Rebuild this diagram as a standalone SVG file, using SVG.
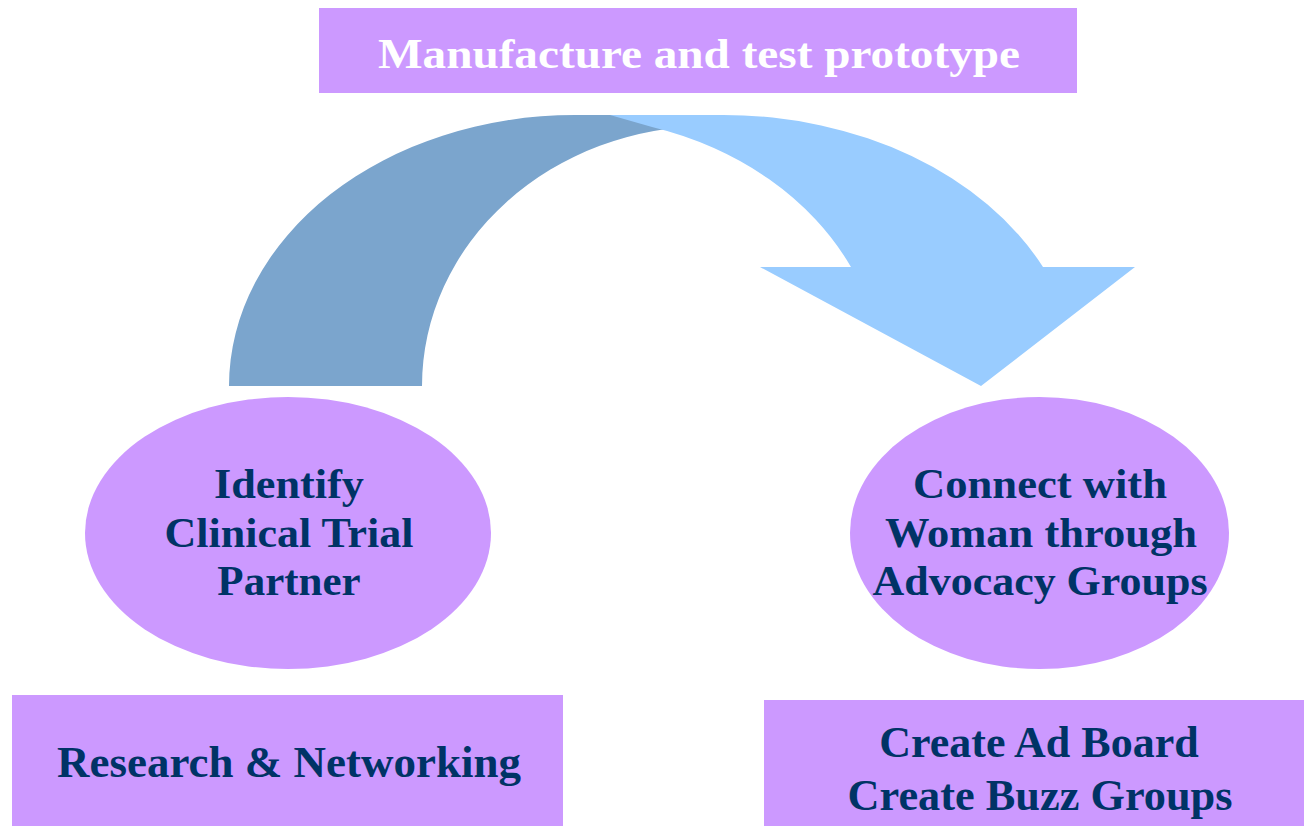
<svg xmlns="http://www.w3.org/2000/svg" width="1304" height="826" viewBox="0 0 1304 826">
<style>
.box{fill:#CC99FF}
.lbl{font-family:"Liberation Serif","Times New Roman",serif;font-weight:bold;font-size:44px;fill:#003366;text-anchor:middle}
.sm{font-size:43px}
.ttl{font-family:"Liberation Serif","Times New Roman",serif;font-weight:bold;font-size:42px;fill:#FFFFFF;text-anchor:middle}
</style>
<rect width="1304" height="826" fill="#FFFFFF"/>
<g id="connectors">
<path id="arrow-back" d="M229 386 A346 271 0 0 1 575 115 L710 115 L710 126 A288 260 0 0 0 422 386 Z" fill="#7BA5CD"/>
<path id="arrow-front" d="M610 115 L723 115 A356 271 0 0 1 1043 267 L1135 267 L981 386 L760 267 L851 267 A320 268 0 0 0 652 127 Z" fill="#99CCFF"/>
</g>
<g id="top">
<rect class="box" x="319" y="8" width="758" height="85"/>
<text class="ttl" x="699" y="68" textLength="642" lengthAdjust="spacingAndGlyphs">Manufacture and test prototype</text>
</g>
<g id="identify">
<ellipse class="box" cx="288" cy="533" rx="203" ry="136"/>
<text class="lbl sm" x="289" y="498" textLength="150" lengthAdjust="spacingAndGlyphs">Identify</text>
<text class="lbl sm" x="289" y="547" textLength="249" lengthAdjust="spacingAndGlyphs">Clinical Trial</text>
<text class="lbl sm" x="289" y="595">Partner</text>
</g>
<g id="connect">
<ellipse class="box" cx="1039.5" cy="533" rx="189.5" ry="136"/>
<text class="lbl sm" x="1040" y="498" textLength="254" lengthAdjust="spacingAndGlyphs">Connect with</text>
<text class="lbl sm" x="1041" y="547" textLength="312" lengthAdjust="spacingAndGlyphs">Woman through</text>
<text class="lbl sm" x="1040" y="595" textLength="335" lengthAdjust="spacingAndGlyphs">Advocacy Groups</text>
</g>
<g id="research">
<rect class="box" x="12" y="695" width="551" height="131"/>
<text class="lbl" x="289" y="777" textLength="464" lengthAdjust="spacingAndGlyphs">Research &amp; Networking</text>
</g>
<g id="create">
<rect class="box" x="764" y="700" width="540" height="126"/>
<text class="lbl" x="1039" y="757">Create Ad Board</text>
<text class="lbl" x="1040" y="810" textLength="385" lengthAdjust="spacingAndGlyphs">Create Buzz Groups</text>
</g>
</svg>
